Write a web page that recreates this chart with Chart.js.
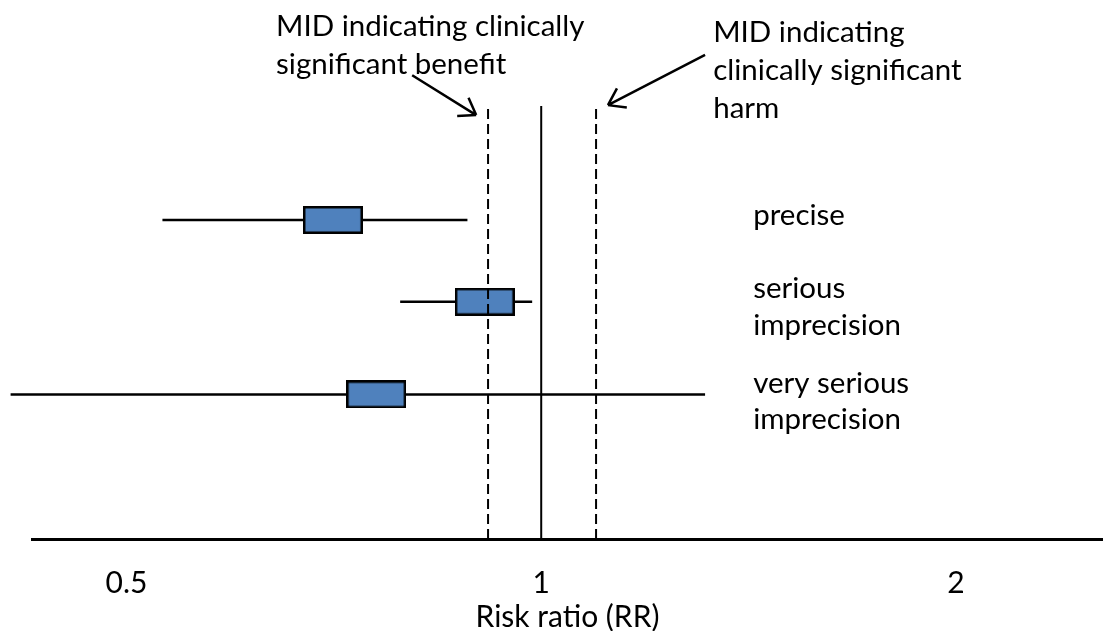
<!DOCTYPE html>
<html lang="en">
<head>
<meta charset="UTF-8">
<title>Risk ratio and imprecision</title>
<script src="https://cdn.jsdelivr.net/npm/chart.js"></script>
<style>
  body { margin: 0; background: #fff; }
  #wrap { width: 1103px; height: 631px; }
</style>
</head>
<body>
<div id="wrap"><canvas id="rrChart" width="1103" height="631"></canvas></div>
<script>
  // values (risk ratios, log axis)
  const rowLines = [['precise'], ['serious', 'imprecision'], ['very serious', 'imprecision']];
  const rrEstimate = [0.706, 0.910, 0.759];
  const ciLower = [0.531, 0.790, 0.412];
  const ciUpper = [0.884, 0.985, 1.315];
  const rowPos = [73.7, 54.8, 33.4];
  const noEffect = 1;
  const midBenefit = 0.915;
  const midHarm = 1.096;
  const xTicks = [0.5, 1, 2];
  const xTitle = 'Risk ratio (RR)';
  const benefitNote = ['MID indicating clinically', 'significant benefit'];
  const harmNote = ['MID indicating', 'clinically significant', 'harm'];

  const FONT = "Lato, 'Open Sans', sans-serif";
  Chart.defaults.font.family = FONT;
  Chart.defaults.color = '#000';

  // the blue box used for the point estimate
  const boxImg = document.createElement('canvas');
  boxImg.width = 60;
  boxImg.height = 28;
  const b = boxImg.getContext('2d');
  b.fillStyle = '#4F81BD';
  b.fillRect(1.25, 1.25, 57.5, 25.5);
  b.strokeStyle = '#000';
  b.lineWidth = 2.5;
  b.strokeRect(1.25, 1.25, 57.5, 25.5);

  function refLine(v, dashed) {
    return {
      data: [{ x: v, y: 0 }, { x: v, y: 100 }],
      borderColor: '#000',
      borderWidth: 2,
      borderDash: dashed ? [10, 5] : [],
      pointRadius: 0,
      clip: false
    };
  }

  const datasets = [
    refLine(midBenefit, true),
    refLine(noEffect, false),
    refLine(midHarm, true),
    {
      data: rrEstimate.map((v, i) => ({ x: v, y: rowPos[i] })),
      showLine: false,
      pointStyle: boxImg,
      pointRadius: 12,
      clip: false
    }
  ].concat(ciLower.map((lo, i) => ({
    data: [{ x: lo, y: rowPos[i] }, { x: ciUpper[i], y: rowPos[i] }],
    borderColor: '#000',
    borderWidth: 2.5,
    pointRadius: 0,
    clip: false
  })));

  // text notes and arrows, placed in axis units
  const notes = {
    id: 'notes',
    afterDatasetsDraw(chart) {
      const { ctx, scales: { x, y } } = chart;
      ctx.save();
      ctx.fillStyle = '#000';
      ctx.font = '29.5px ' + FONT;
      ctx.textAlign = 'left';
      ctx.textBaseline = 'alphabetic';

      function put(lines, xv, ys) {
        lines.forEach((t, k) => ctx.fillText(t, x.getPixelForValue(xv), y.getPixelForValue(ys[k])));
      }
      put(benefitNote, 0.642, [116.2, 107.4]);
      put(harmNote, 1.333, [114.7, 106.0, 97.2]);
      const rowBase = [[72.5], [55.6, 47.2], [33.7, 25.3]];
      rowLines.forEach((lines, i) => put(lines, 1.425, rowBase[i]));

      function arrow(x0, y0, x1, y1) {
        const ax = x.getPixelForValue(x0), ay = y.getPixelForValue(y0);
        const bx = x.getPixelForValue(x1), by = y.getPixelForValue(y1);
        const ang = Math.atan2(by - ay, bx - ax);
        ctx.strokeStyle = '#000';
        ctx.lineWidth = 2.5;
        ctx.beginPath();
        ctx.moveTo(ax, ay);
        ctx.lineTo(bx, by);
        [-0.6, 0.6].forEach(d => {
          ctx.moveTo(bx, by);
          ctx.lineTo(bx - 19 * Math.cos(ang + d), by - 19 * Math.sin(ang + d));
        });
        ctx.stroke();
      }
      arrow(0.806, 107.1, 0.897, 97.9);
      arrow(1.315, 111.8, 1.118, 100.2);
      ctx.restore();
    }
  };

  new Chart(document.getElementById('rrChart'), {
    type: 'line',
    data: { datasets: datasets },
    options: {
      responsive: false,
      animation: false,
      layout: { autoPadding: false, padding: { left: 32, right: 0, top: 106, bottom: 0 } },
      plugins: { legend: { display: false }, tooltip: { enabled: false } },
      scales: {
        x: {
          type: 'logarithmic',
          min: 0.427,
          max: 2.557,
          grid: { display: false, drawTicks: false },
          border: { display: true, color: '#000', width: 3 },
          afterBuildTicks: (scale) => { scale.ticks = xTicks.map(v => ({ value: v })); },
          ticks: {
            padding: 26,
            autoSkip: false,
            maxRotation: 0,
            font: { size: 30, lineHeight: 1.2 },
            callback: (v) => String(v)
          },
          title: {
            display: true,
            text: xTitle,
            font: { size: 30, lineHeight: 1.1 },
            padding: { top: -26, bottom: -3 }
          }
        },
        y: {
          type: 'linear',
          min: 0,
          max: 100,
          display: false
        }
      }
    },
    plugins: [notes]
  });
</script>
</body>
</html>
